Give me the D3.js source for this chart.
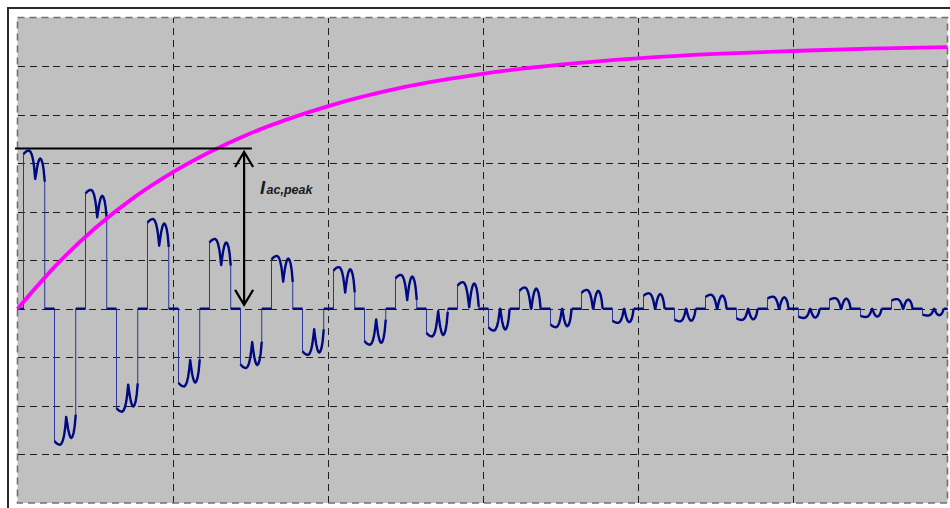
<!DOCTYPE html>
<html>
<head>
<meta charset="utf-8">
<script src="https://cdn.jsdelivr.net/npm/d3@7"></script>
<style>
  html, body { margin: 0; padding: 0; background: #ffffff; }
  svg { display: block; }
</style>
</head>
<body>
<svg id="chart" width="950" height="508"></svg>
<script>
// ---- data (time in ms, current / voltage in grid units) ----
const xTicks = [0, 50, 100, 150, 200, 250, 300];
const yTicks = [-4, -3, -2, -1, 0, 1, 2, 3, 4, 5, 6];

// line period and conduction block of the phase current
const periodMs = 20;
const firstPulseStart = 1.94;
const blockWidthMs = 6.85;
const negativeOffsetMs = 10;

// peak of the first hump of every positive / negative current block
const positivePeaks = [3.26, 2.45, 1.85, 1.44, 1.09, 0.86, 0.70, 0.55, 0.44, 0.39, 0.32, 0.29, 0.25, 0.22, 0.20];
const negativePeaks = [2.80, 2.12, 1.60, 1.22, 0.95, 0.74, 0.57, 0.45, 0.38, 0.29, 0.26, 0.23, 0.19, 0.17, 0.14];

// two-hump profile inside one block: depth below the peak (in ripple units)
const blockPhase = [0.00, 0.06, 0.13, 0.20, 0.26, 0.33, 0.40, 0.46, 0.51, 0.55, 0.59, 0.64, 0.70, 0.75, 0.79, 0.84, 0.90, 0.95, 1.00];
const blockDepth = [0.16, 0.09, 0.04, 0.01, 0.00, 0.05, 0.20, 0.45, 0.78, 1.05, 0.70, 0.38, 0.14, 0.03, 0.00, 0.05, 0.22, 0.50, 1.00];
const rippleDepth = 0.48;
const secondHumpRatio = 0.95;

// DC-link voltage charging curve
const chargeTime  = [0, 12.5, 25, 37.5, 50, 75, 100, 125, 150, 175, 200, 225, 250, 275, 300];
const chargeValue = [0, 0.90, 1.66, 2.29, 2.81, 3.61, 4.17, 4.57, 4.84, 5.03, 5.16, 5.25, 5.31, 5.36, 5.39];

// peak marker and arrow
const peakLevel = 3.30;
const peakLineStart = -0.8;
const peakLineEnd = 75.6;
const arrowTime = 73.1;
const arrowTop = 3.23;
const arrowBottom = 0.08;
const labelTime = 78.2;
const labelValue = 2.37;

// ---- layout ----
const svg = d3.select("#chart");
const plot = { left: 17.5, top: 17.5, right: 947.5, bottom: 503 };

const x = d3.scaleLinear().domain([0, 300]).range([plot.left, plot.right]);
const y = d3.scaleLinear().domain([-4, 6]).range([plot.bottom, plot.top]);

// outer frame
svg.append("rect")
  .attr("x", 8).attr("y", 8).attr("width", 980).attr("height", 540)
  .attr("fill", "#ffffff").attr("stroke", "#2b2b2b").attr("stroke-width", 2);

// plot background
svg.append("rect")
  .attr("x", plot.left).attr("y", plot.top)
  .attr("width", plot.right - plot.left).attr("height", plot.bottom - plot.top)
  .attr("fill", "#c0c0c0");

// grid lines through the axis generators
const innerX = xTicks.slice(1, -1);
const innerY = yTicks.slice(1, -1);

const gx = svg.append("g")
  .attr("transform", `translate(0,${plot.bottom})`)
  .call(d3.axisBottom(x).tickValues(innerX).tickSize(-(plot.bottom - plot.top)).tickFormat(""));
const gy = svg.append("g")
  .attr("transform", `translate(${plot.left},0)`)
  .call(d3.axisLeft(y).tickValues(innerY).tickSize(-(plot.right - plot.left)).tickFormat(""));

[gx, gy].forEach(g => {
  g.select(".domain").remove();
  g.selectAll(".tick line")
    .attr("stroke", "#1c1c1c")
    .attr("stroke-width", 1)
    .attr("stroke-dasharray", "7,5")
    .attr("shape-rendering", "crispEdges");
});

// dashed plot border
svg.append("rect")
  .attr("x", plot.left).attr("y", plot.top)
  .attr("width", plot.right - plot.left).attr("height", plot.bottom - plot.top)
  .attr("fill", "none").attr("stroke", "#707070").attr("stroke-width", 1.6)
  .attr("stroke-dasharray", "7,5");

// ---- phase current waveform ----
function depthAt(phi) {
  for (let i = 1; i < blockPhase.length; i++) {
    if (phi <= blockPhase[i]) {
      const f = (phi - blockPhase[i - 1]) / (blockPhase[i] - blockPhase[i - 1]);
      return blockDepth[i - 1] + f * (blockDepth[i] - blockDepth[i - 1]);
    }
  }
  return blockDepth[blockDepth.length - 1];
}
function humpRatio(phi) {
  if (phi <= 0.5) return 1;
  if (phi >= 0.6) return secondHumpRatio;
  return 1 - (1 - secondHumpRatio) * (phi - 0.5) / 0.1;
}
function blockLevel(phi, peak) {
  const ripple = Math.min(rippleDepth, peak);
  return Math.max(0, peak * humpRatio(phi) - ripple * depthAt(phi));
}

// all points (thin trace) and the same trace with breaks at the switching edges (thick trace)
const tracePts = [{ t: 0, v: 0 }];
const thickPts = [{ t: 0, v: 0 }];
const blocks = [];
positivePeaks.forEach((p, k) => {
  blocks.push({ start: firstPulseStart + k * periodMs, peak: p, sign: 1 });
  blocks.push({ start: firstPulseStart + k * periodMs + negativeOffsetMs, peak: negativePeaks[k], sign: -1 });
});
const steps = 80;
blocks.forEach(b => {
  const t0 = b.start, t1 = b.start + blockWidthMs;
  tracePts.push({ t: t0, v: 0 });
  thickPts.push({ t: t0, v: 0 }, null);
  for (let i = 0; i <= steps; i++) {
    const phi = i / steps;
    const pt = { t: t0 + phi * blockWidthMs, v: b.sign * blockLevel(phi, b.peak) };
    tracePts.push(pt);
    thickPts.push(pt);
  }
  tracePts.push({ t: t1, v: 0 });
  thickPts.push(null, { t: t1, v: 0 });
});
tracePts.push({ t: 300, v: 0 });
thickPts.push({ t: 300, v: 0 });

const traceLine = d3.line().x(d => x(d.t)).y(d => y(d.v));
const thickLine = d3.line().defined(d => d !== null).x(d => x(d.t)).y(d => y(d.v));

svg.append("path")
  .attr("d", traceLine(tracePts))
  .attr("fill", "none").attr("stroke", "#2c3596").attr("stroke-width", 1);
svg.append("path")
  .attr("d", thickLine(thickPts))
  .attr("fill", "none").attr("stroke", "#000a80").attr("stroke-width", 2.4)
  .attr("stroke-linejoin", "round");

// ---- charging curve ----
const chargeLine = d3.line()
  .x((d, i) => x(chargeTime[i]))
  .y(d => y(d))
  .curve(d3.curveMonotoneX);
svg.append("path")
  .attr("d", chargeLine(chargeValue))
  .attr("fill", "none").attr("stroke", "#ff00ff").attr("stroke-width", 3.8);

// ---- peak marker ----
svg.append("line")
  .attr("x1", x(peakLineStart)).attr("x2", x(peakLineEnd))
  .attr("y1", y(peakLevel)).attr("y2", y(peakLevel))
  .attr("stroke", "#000000").attr("stroke-width", 2);

const ax = x(arrowTime), ayTop = y(arrowTop), ayBot = y(arrowBottom);
svg.append("line")
  .attr("x1", ax).attr("x2", ax).attr("y1", ayTop + 1).attr("y2", ayBot - 1)
  .attr("stroke", "#000000").attr("stroke-width", 2.2);
svg.append("path")
  .attr("d", `M${ax - 9},${ayTop + 15} L${ax},${ayTop} L${ax + 9},${ayTop + 15}`)
  .attr("fill", "none").attr("stroke", "#000000").attr("stroke-width", 2.2);
svg.append("path")
  .attr("d", `M${ax - 9},${ayBot - 15} L${ax},${ayBot} L${ax + 9},${ayBot - 15}`)
  .attr("fill", "none").attr("stroke", "#000000").attr("stroke-width", 2.2);

const label = svg.append("text")
  .attr("x", x(labelTime)).attr("y", y(labelValue))
  .attr("font-family", "'Liberation Sans', Arial, sans-serif")
  .attr("font-weight", "bold").attr("font-style", "italic")
  .attr("fill", "#1a1a1a");
label.append("tspan").attr("font-size", 18.5).text("I");
label.append("tspan").attr("font-size", 12.5).attr("dx", 1.5).text("ac,peak");
</script>
</body>
</html>
